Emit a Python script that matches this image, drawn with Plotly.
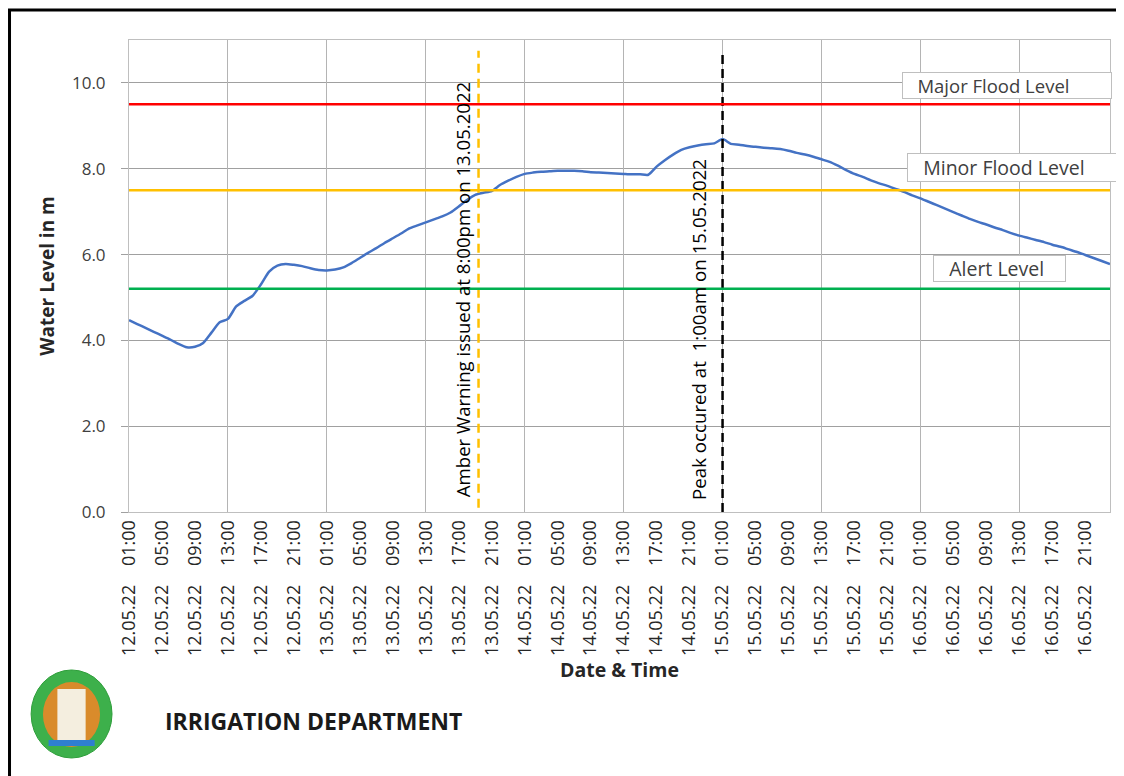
import pandas as pd
import plotly.graph_objects as go

# hourly water level readings, 12.05.22 01:00 -> 17.05.22 00:00
start_time = "2022-05-12 01:00"
water_level = [
    4.47, 4.38, 4.29, 4.20, 4.11, 4.02, 3.92, 3.84, 3.85, 3.94,
    4.18, 4.42, 4.50, 4.79, 4.92, 5.04, 5.30, 5.60, 5.74, 5.78,
    5.76, 5.73, 5.68, 5.64, 5.63, 5.65, 5.70, 5.80, 5.92, 6.04,
    6.15, 6.27, 6.38, 6.49, 6.61, 6.68, 6.75, 6.82, 6.89, 6.98,
    7.12, 7.27, 7.39, 7.44, 7.48, 7.62, 7.72, 7.81, 7.88, 7.91,
    7.93, 7.94, 7.95, 7.95, 7.95, 7.94, 7.92, 7.91, 7.90, 7.89,
    7.88, 7.87, 7.87, 7.86, 8.05, 8.20, 8.33, 8.44, 8.50, 8.54,
    8.57, 8.59, 8.69, 8.58, 8.56, 8.53, 8.51, 8.49, 8.48, 8.46,
    8.42, 8.37, 8.33, 8.28, 8.22, 8.16, 8.07, 7.97, 7.88, 7.81,
    7.73, 7.66, 7.60, 7.53, 7.46, 7.38, 7.31, 7.23, 7.15, 7.07,
    6.99, 6.91, 6.83, 6.76, 6.70, 6.63, 6.57, 6.50, 6.44, 6.39,
    6.34, 6.29, 6.23, 6.18, 6.12, 6.06, 5.99, 5.92, 5.85, 5.78,
]

level_names = ["Major Flood Level", "Minor Flood Level", "Alert Level"]
level_values = [9.5, 7.5, 5.2]
level_colors = ["#ff0000", "#ffc000", "#00b050"]

amber_time = "2022-05-13 19:24"
amber_span = [0.1, 10.75]
peak_time = "2022-05-15 01:00"
peak_span = [0.0, 10.7]

times = pd.date_range(start_time, periods=len(water_level), freq="h")
tick_times = pd.date_range(start_time, times[-1], freq="4h")
gap = "\u00a0" * 4
tick_labels = [t.strftime("%d.%m.%y") + gap + t.strftime("%H:%M") for t in tick_times]
grid_times = pd.date_range(start_time, times[-1], freq="12h")

FONT = "Open Sans"
fig = go.Figure()

# flood / alert levels
for name, val, col in zip(level_names, level_values, level_colors):
    fig.add_trace(go.Scatter(x=[times[0], times[-1]], y=[val, val], mode="lines",
                             line=dict(color=col, width=2.5), xaxis="x2", yaxis="y",
                             showlegend=False, hoverinfo="skip"))

fig.add_trace(go.Scatter(x=times, y=water_level, mode="lines", line_shape="spline",
                         line=dict(color="#4472c4", width=2.5, smoothing=0.6),
                         name="Water Level", showlegend=False))

fig.add_trace(go.Scatter(x=[amber_time, amber_time], y=amber_span, mode="lines",
                         line=dict(color="#ffc000", width=2.5, dash="9px,6px"),
                         showlegend=False, hoverinfo="skip"))
fig.add_trace(go.Scatter(x=[peak_time, peak_time], y=peak_span, mode="lines",
                         line=dict(color="black", width=2.5, dash="9px,5px"),
                         showlegend=False, hoverinfo="skip"))

# level labels in boxes
box_pos = [(0.788, 0.932, 208, 25, 18.5), (0.793, 0.7606, 209, 27, 19.5), (0.8196, 0.5445, 131, 25, 19.5)]
for name, (bx, by, bw, bh, fs) in zip(level_names, box_pos):
    fig.add_annotation(x=bx, y=by, xref="paper", yref="paper", xanchor="left", yanchor="top",
                       text="\u00a0\u00a0\u00a0" + name, showarrow=False, align="left",
                       width=bw, height=bh, bgcolor="white", bordercolor="#bfbfbf",
                       borderwidth=1, borderpad=0,
                       font=dict(family=FONT, size=fs, color="#404040"))

fig.add_annotation(x=0.3395, y=0.470, xref="paper", yref="paper", textangle=-90,
                   text="Amber Warning issued at 8:00pm on 13.05.2022", showarrow=False,
                   font=dict(family=FONT, size=18.6, color="black"))
fig.add_annotation(x=0.580, y=0.3877, xref="paper", yref="paper", textangle=-90,
                   text="Peak occured at\u00a0\u00a01:00am on 15.05.2022", showarrow=False,
                   font=dict(family=FONT, size=18.7, color="black"))

fig.add_annotation(x=0.0347, y=-0.443, xref="paper", yref="paper", xanchor="left", yanchor="middle",
                   text="<b>IRRIGATION DEPARTMENT</b>", showarrow=False,
                   font=dict(family=FONT, size=23, color="#1a1a1a"))

# outer frame
fig.add_shape(type="rect", xref="paper", yref="paper", x0=-0.1218, x1=1.05, y0=-0.7, y1=1.0636,
              line=dict(color="black", width=3), layer="below")

# logo (rough emblem)
fig.add_shape(type="circle", xref="paper", yref="paper", x0=-0.0998, x1=-0.0173, y0=-0.5212, y1=-0.3347,
              line=dict(color="#2e9e3a", width=1), fillcolor="#3db04b")
fig.add_shape(type="circle", xref="paper", yref="paper", x0=-0.0877, x1=-0.0295, y0=-0.4979, y1=-0.3602,
              line=dict(width=0), fillcolor="#d98b2b")
fig.add_shape(type="rect", xref="paper", yref="paper", x0=-0.0730, x1=-0.0442, y0=-0.4830, y1=-0.3750,
              line=dict(width=0), fillcolor="#f4eedf")
fig.add_shape(type="rect", xref="paper", yref="paper", x0=-0.0820, x1=-0.0350, y0=-0.4960, y1=-0.4830,
              line=dict(width=0), fillcolor="#2f7fd0")

# page body has an 8px margin, so the figure is 8px smaller
fig.update_layout(
    width=1116, height=768,
    margin=dict(l=121, r=14, t=32, b=264),
    paper_bgcolor="white", plot_bgcolor="white",
    showlegend=False,
    xaxis=dict(type="date", range=[times[0], times[-1]], tickvals=tick_times, ticktext=tick_labels,
               tickangle=-90, showgrid=False, showline=True, linecolor="#bfbfbf", mirror=True,
               ticks="", tickfont=dict(family=FONT, size=18, color="#262626"),
               title=dict(text="<b>Date & Time</b>", font=dict(family=FONT, size=19.5, color="#262626"),
                          standoff=6)),
    xaxis2=dict(type="date", overlaying="x", matches="x", tickvals=grid_times, showticklabels=False,
                showgrid=True, gridcolor="#b4b4b4", gridwidth=1, ticks="", anchor="y"),
    yaxis=dict(range=[0, 11], dtick=2, tick0=0, tickformat=".1f", showgrid=True, gridcolor="#a0a0a0",
               showline=True, linecolor="#bfbfbf", mirror=True, ticks="outside", ticklen=7,
               tickcolor="#a0a0a0", zeroline=False, ticklabelstandoff=12,
               tickfont=dict(family=FONT, size=17, color="#404040"),
               title=dict(text="<b>Water Level in m</b>", font=dict(family=FONT, size=19, color="#262626"),
                          standoff=12)),
)

fig.write_html("out.html")
